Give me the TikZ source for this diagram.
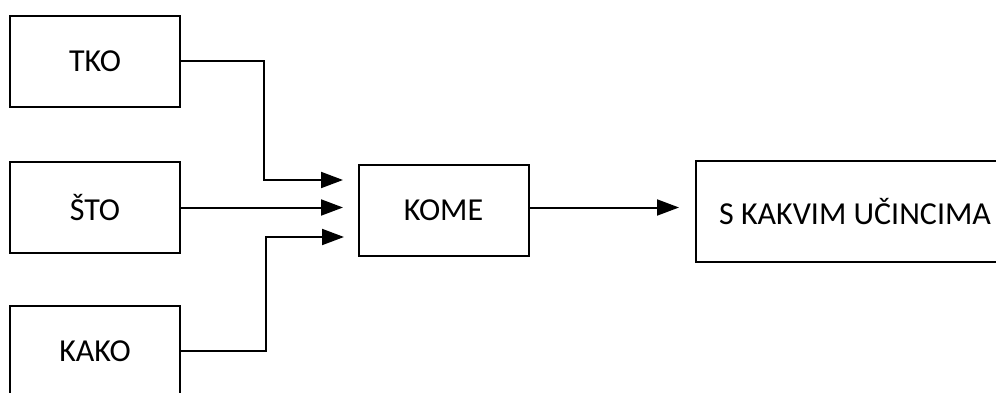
\documentclass[tikz,border=0pt]{standalone}
\usepackage{fontspec}
\setmainfont{Carlito}
\usetikzlibrary{arrows.meta}
\tikzset{
  box/.style={draw, line width=2pt, minimum width=170pt, minimum height=91pt, inner sep=0pt, font=\fontsize{32}{36}\selectfont},
  pil/.style={-{Triangle[length=22pt,width=16pt]}, line width=2pt}
}
\begin{document}
\begin{tikzpicture}[x=1pt,y=1pt]
\useasboundingbox (0,0) rectangle (996,-393);

\node [box] (tko) at (95,-61.5) {TKO};
\node [box] (sto) at (95,-207.5) {ŠTO};
\node [box] (kako) at (95,-351) {KAKO};
\node [box] (kome) at (443.5,-210.5) {KOME};
\node [box, minimum width=318pt, minimum height=101pt] (ucinci) at (855,-211.5) {S KAKVIM UČINCIMA};

\coordinate (ul1) at (343,-180);
\coordinate (ul2) at (343,-207.5);
\coordinate (ul3) at (344,-237);
\coordinate (izl) at (679,-207.5);

\draw [pil] (tko.east) -- ++(83,0) |- (ul1);
\draw [pil] (sto.east) -- (ul2);
\draw [pil] (kako.east) -- ++(85,0) |- (ul3);
\draw [pil] (kome.east |- ul2) -- (izl);

\end{tikzpicture}
\end{document}
